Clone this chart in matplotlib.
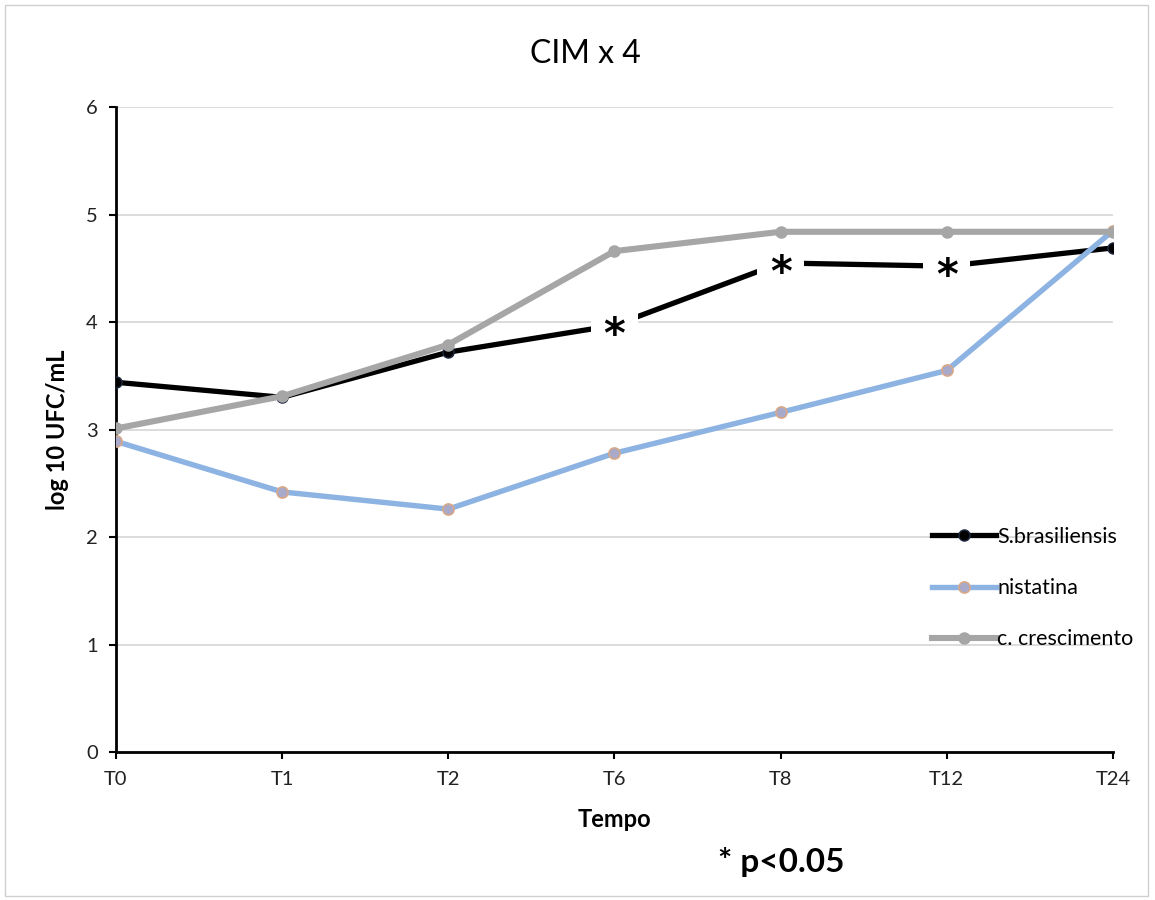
import matplotlib
matplotlib.use("Agg")
import matplotlib.pyplot as plt
from matplotlib.patches import Rectangle

## data ##
tempos = ["T0", "T1", "T2", "T6", "T8", "T12", "T24"]
s_brasiliensis = [3.44, 3.30, 3.72, 3.97, 4.55, 4.52, 4.69]
nistatina = [2.89, 2.42, 2.26, 2.78, 3.16, 3.55, 4.85]
crescimento = [3.01, 3.31, 3.79, 4.66, 4.84, 4.84, 4.84]
signif = ["T6", "T8", "T12"]  # points marked with * (p<0.05)

plt.rcParams['font.family'] = ['Lato', 'DejaVu Sans']

fig = plt.figure(figsize=(11.55, 9), dpi=100)
ax = fig.add_axes([0.1004, 0.1644, 0.8632, 0.7166])

x = list(range(len(tempos)))
ax.plot(x, s_brasiliensis, color="black", lw=3.8, marker="o", ms=8,
        mfc="black", mec="#1f2a44", label="S.brasiliensis", zorder=3)
ax.plot(x, nistatina, color="#8db3e2", lw=3.9, marker="o", ms=8,
        mfc="#a9a9c9", mec="#d8a888", mew=1.2, label="nistatina", zorder=4)
ax.plot(x, crescimento, color="#a6a6a6", lw=4.4, marker="o", ms=8,
        mfc="#a6a6a6", mec="#a6a6a6", label="c. crescimento", zorder=5)

# significance asterisks sit on the black line, with a white box hiding the marker
for t in signif:
    i = tempos.index(t)
    ax.annotate("*", (i, s_brasiliensis[i]), xytext=(0, -8), textcoords="offset points",
                ha="center", va="center", fontsize=30, fontweight="bold", zorder=6,
                family="DejaVu Sans",
                bbox=dict(boxstyle="square,pad=0.3", fc="white", ec="none"))

ax.set_xlim(0, len(tempos) - 1)
ax.set_ylim(0, 6)
ax.set_xticks(x)
ax.set_xticklabels(tempos)
ax.set_yticks(range(0, 7))
ax.tick_params(axis="both", labelsize=14.5, length=5, width=1.5, color="black",
               labelcolor="#222222")
ax.tick_params(axis="x", pad=9)
ax.tick_params(axis="y", pad=8)
ax.yaxis.grid(True, color="#d9d9d9", lw=1.3)
ax.set_axisbelow(True)
for s in ["top", "right"]:
    ax.spines[s].set_visible(False)
ax.spines["left"].set_linewidth(2)
ax.spines["bottom"].set_linewidth(2)

ax.set_xlabel("Tempo", fontsize=17, fontweight="bold", labelpad=14)
ax.set_ylabel("log 10 UFC/mL", fontsize=17, fontweight="bold", labelpad=12)
fig.text(0.507, 0.94, "CIM x 4", ha="center", va="center", fontsize=23)
fig.text(0.676, 0.042, "* p<0.05", ha="center", va="center", fontsize=24,
         fontweight="bold")

ax.legend(loc="center left", bbox_to_anchor=(0.8095, 0.254), frameon=False,
          fontsize=15.5, handlelength=3.0, handletextpad=0.05, labelspacing=1.45,
          borderaxespad=0)

fig.patches.append(Rectangle((0.004, 0.005), 0.99, 0.99, transform=fig.transFigure,
                             fill=False, ec="#d0d0d0", lw=1))

fig.savefig("out.png", dpi=100)
